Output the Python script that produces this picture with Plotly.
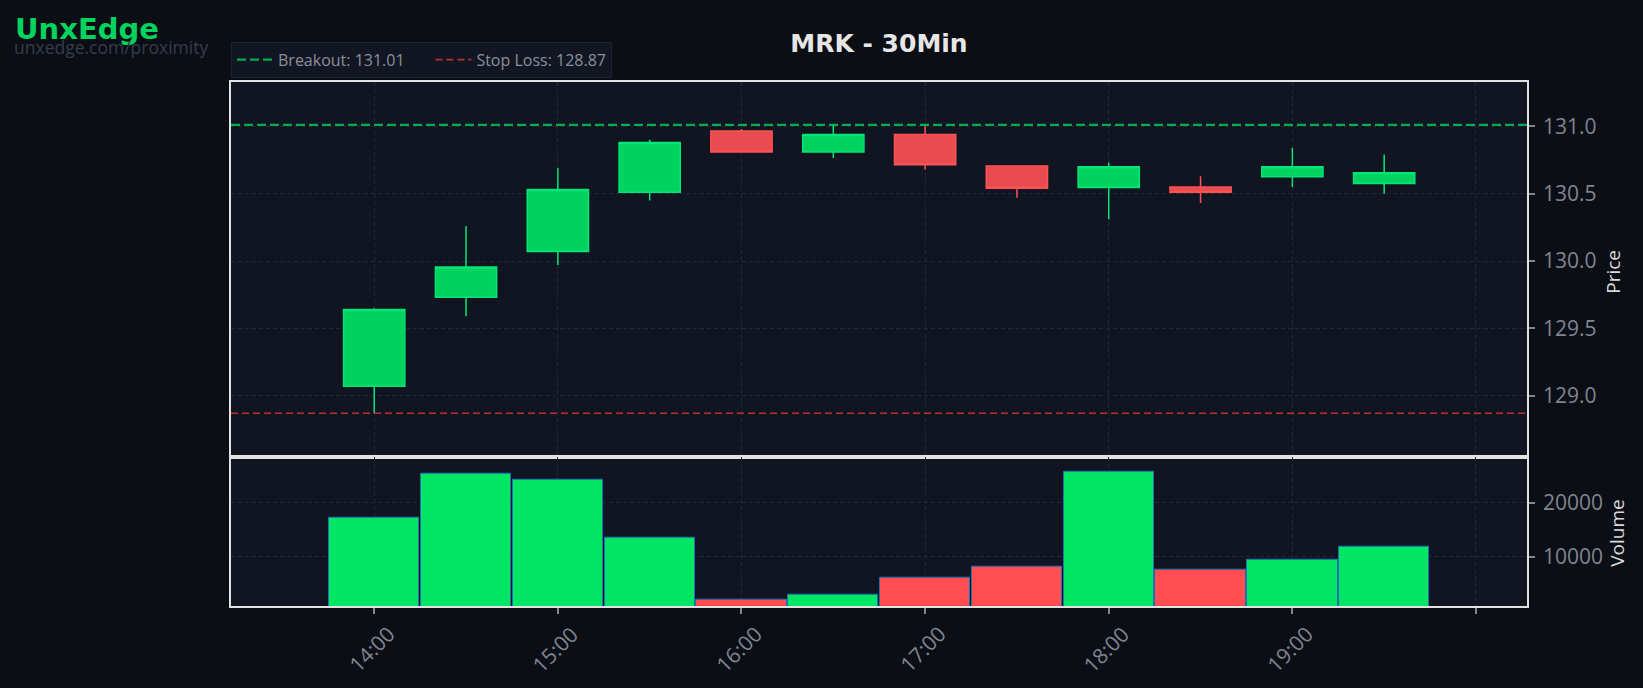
import plotly.graph_objects as go
from plotly.subplots import make_subplots

# ---------------- data ----------------
times = ["2024-01-02 14:00", "2024-01-02 14:30", "2024-01-02 15:00", "2024-01-02 15:30",
         "2024-01-02 16:00", "2024-01-02 16:30", "2024-01-02 17:00", "2024-01-02 17:30",
         "2024-01-02 18:00", "2024-01-02 18:30", "2024-01-02 19:00", "2024-01-02 19:30"]
opens = [129.07, 129.73, 130.07, 130.51, 130.965, 130.81, 130.94, 130.705, 130.545, 130.55, 130.625, 130.575]
highs = [129.65, 130.26, 130.69, 130.90, 130.98, 131.01, 131.00, 130.705, 130.73, 130.63, 130.84, 130.79]
lows = [128.87, 129.59, 129.97, 130.45, 130.81, 130.765, 130.68, 130.47, 130.31, 130.43, 130.55, 130.50]
closes = [129.64, 129.955, 130.53, 130.88, 130.81, 130.94, 130.715, 130.54, 130.70, 130.51, 130.70, 130.655]
volumes = [17300, 25300, 24300, 13600, 2100, 3050, 6200, 8200, 25800, 7500, 9500, 11900]

breakout = 131.01
stop_loss = 128.87

tick_times = ["2024-01-02 14:00", "2024-01-02 15:00", "2024-01-02 16:00", "2024-01-02 17:00",
              "2024-01-02 18:00", "2024-01-02 19:00", "2024-01-02 20:00"]
tick_labels = ["14:00", "15:00", "16:00", "17:00", "18:00", "19:00", ""]
price_ticks = [129.0, 129.5, 130.0, 130.5, 131.0]
volume_ticks = [10000, 20000]

x_range = ["2024-01-02 13:13:12", "2024-01-02 20:16:40"]
price_range = [128.547, 131.329]
volume_range = [870, 28519]

# ---------------- style ----------------
PAPER = "#0b0e15"
PLOT = "#111521"
GRID = "#232837"
BORDER = "#e2e2e2"
TICKC = "#7f8591"
UP_FILL, UP_LINE = "#00d25f", "#00e676"
DN_FILL, DN_LINE = "#e84b50", "#ff5252"
VOL_UP, VOL_DN = "#00e664", "#ff4d50"
TICKFONT = "Open Sans"
NBSP = "\u00a0"

fig = make_subplots(rows=2, cols=1, shared_xaxes=True, vertical_spacing=0,
                    row_heights=[0.715, 0.285])

fig.add_trace(go.Candlestick(
    x=times, open=opens, high=highs, low=lows, close=closes,
    increasing=dict(fillcolor=UP_FILL, line=dict(color=UP_LINE, width=1.5)),
    decreasing=dict(fillcolor=DN_FILL, line=dict(color=DN_LINE, width=1.5)),
    whiskerwidth=0, showlegend=False, name="MRK"), row=1, col=1)

fig.add_trace(go.Scatter(
    x=x_range, y=[breakout, breakout], mode="lines",
    line=dict(color="rgba(0,200,83,0.85)", width=2.2, dash="9px,4px"),
    name=f"Breakout: {breakout:.2f}" + NBSP * 5), row=1, col=1)
fig.add_trace(go.Scatter(
    x=x_range, y=[stop_loss, stop_loss], mode="lines",
    line=dict(color="rgba(229,57,53,0.8)", width=1.6, dash="7px,4px"),
    name=f"Stop Loss: {stop_loss:.2f}"), row=1, col=1)

vol_colors = [VOL_UP if c >= o else VOL_DN for o, c in zip(opens, closes)]
fig.add_trace(go.Bar(
    x=times, y=volumes, width=29.5 * 60 * 1000,
    marker=dict(color=vol_colors, line=dict(color="#1f6fb4", width=1)),
    showlegend=False, name="Volume"), row=2, col=1)

axis_common = dict(showline=True, linecolor=BORDER, linewidth=1.5, mirror=True,
                   showgrid=True, gridcolor=GRID, gridwidth=1, griddash="4px,3px",
                   zeroline=False)

fig.update_xaxes(type="date", range=x_range, tickvals=tick_times, rangeslider_visible=False,
                 **axis_common)
fig.update_xaxes(ticks="", showticklabels=False, row=1, col=1)
fig.update_xaxes(ticks="outside", ticklen=6, tickcolor=TICKC, tickwidth=1.5,
                 showticklabels=False, row=2, col=1)

fig.update_yaxes(side="right", ticks="outside", ticklen=6, tickcolor=TICKC, tickwidth=1.5,
                 tickfont=dict(family=TICKFONT, size=21, color=TICKC), ticklabelstandoff=4,
                 **axis_common)
fig.update_yaxes(range=price_range, tickvals=price_ticks,
                 ticktext=[f"{v:.1f}" for v in price_ticks], row=1, col=1)
fig.update_yaxes(range=volume_range, tickvals=volume_ticks,
                 ticktext=[str(v) for v in volume_ticks], row=2, col=1)

fig.update_layout(yaxis=dict(domain=[0.2849, 1.0]), yaxis2=dict(domain=[0.0, 0.2849]))

annotations = []
for t, lab in zip(tick_times, tick_labels):
    if lab:
        annotations.append(dict(x=t, xref="x2", y=0, yref="paper", yshift=-43, xshift=-2.5,
                                text=lab, showarrow=False, textangle=-45,
                                xanchor="center", yanchor="middle",
                                font=dict(family=TICKFONT, size=21, color=TICKC)))
annotations += [
    dict(x=1.0662, y=0.6374, xref="paper", yref="paper", text="Price", textangle=-90,
         showarrow=False, xanchor="center", yanchor="middle",
         font=dict(family=TICKFONT, size=19, color="#d9d9d9")),
    dict(x=1.0693, y=0.1393, xref="paper", yref="paper", text="Volume", textangle=-90,
         showarrow=False, xanchor="center", yanchor="middle",
         font=dict(family=TICKFONT, size=19, color="#d9d9d9")),
    dict(x=-0.1674, y=1.1012, xref="paper", yref="paper", text="<b>UnxEdge</b>",
         showarrow=False, xanchor="left", yanchor="middle", borderpad=0,
         font=dict(family="DejaVu Sans", size=29, color="#00d45e")),
    dict(x=-0.1684, y=1.0668, xref="paper", yref="paper", text="unxedge.com/proximity",
         showarrow=False, xanchor="left", yanchor="middle", borderpad=0,
         font=dict(family=TICKFONT, size=17.5, color="#363d4b")),
]

fig.update_layout(
    width=1643, height=688,
    paper_bgcolor=PAPER, plot_bgcolor=PLOT,
    margin=dict(l=230.7, r=115.8, t=82, b=82, autoexpand=False),
    boxgap=0.0, boxgroupgap=0.333,
    title=dict(text="<b>MRK - 30Min</b>", x=0.5, xref="paper", xanchor="center",
               y=1 - 43 / 688, yref="container", yanchor="middle",
               font=dict(family="DejaVu Sans", size=25, color="#e6e6e6")),
    legend=dict(orientation="h", x=0, xanchor="left", y=1.0082, yanchor="bottom",
                bgcolor="#121622", bordercolor="#1e2332", borderwidth=1,
                font=dict(family=TICKFONT, size=16, color="#8a8f9b"),
                itemwidth=36),
    annotations=annotations,
    bargap=0,
    showlegend=True,
)

fig.write_html("out.html",
               config={"displayModeBar": False},
               post_script="document.body.style.margin='0';"
                           "document.body.style.background='#0b0e15';")
